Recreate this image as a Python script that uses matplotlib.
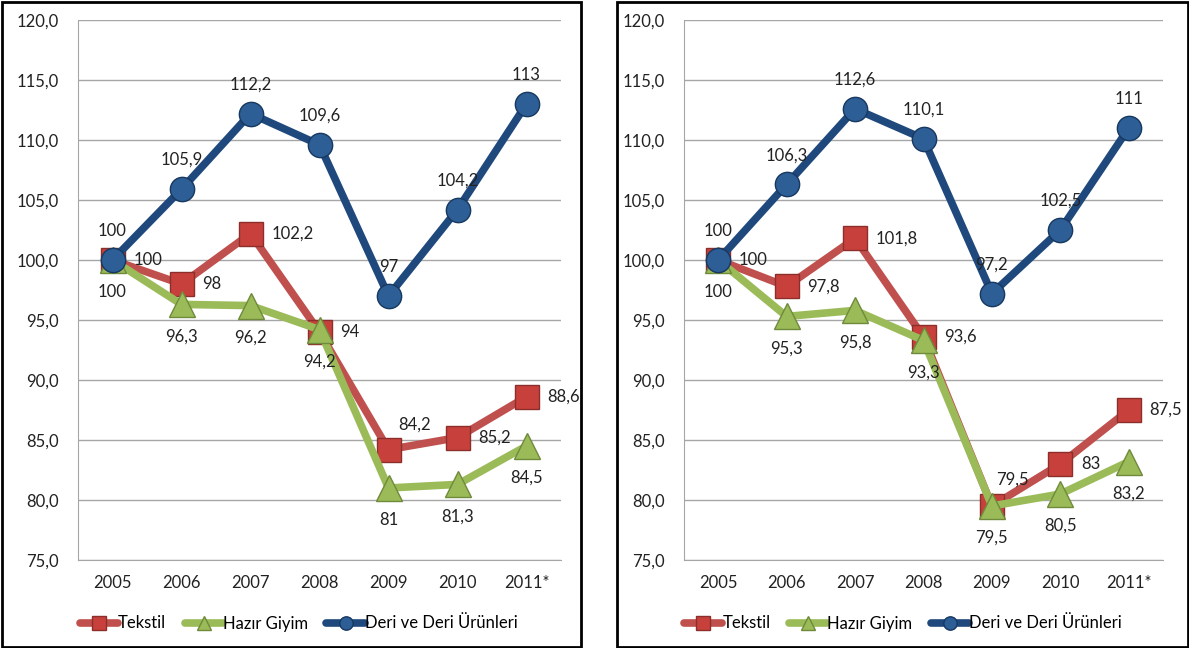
import matplotlib.pyplot as plt
from matplotlib.patches import Rectangle
from matplotlib.ticker import FuncFormatter
import numpy as np

plt.rcParams['font.family'] = ['Lato', 'DejaVu Sans']

years = ['2005', '2006', '2007', '2008', '2009', '2010', '2011*']
series_names = ['Tekstil', 'Hazır Giyim', 'Deri ve Deri Ürünleri']

# left panel
tekstil_1 = [100, 98, 102.2, 94, 84.2, 85.2, 88.6]
hazir_1 = [100, 96.3, 96.2, 94.2, 81, 81.3, 84.5]
deri_1 = [100, 105.9, 112.2, 109.6, 97, 104.2, 113]

# right panel
tekstil_2 = [100, 97.8, 101.8, 93.6, 79.5, 83, 87.5]
hazir_2 = [100, 95.3, 95.8, 93.3, 79.5, 80.5, 83.2]
deri_2 = [100, 106.3, 112.6, 110.1, 97.2, 102.5, 111]

line_cols = ['#C0504D', '#9BBB59', '#1F497D']
face_cols = ['#C8403C', '#9BBB59', '#2D5E95']
edge_cols = ['#8C2E2B', '#6E8A3A', '#173860']
markers = ['s', '^', 'o']
msizes = [17.5, 19, 17.5]
# label offsets in points (dx, dy) per series: right, below, above
offsets = [(15, 0), (0, -23), (0, 21)]


def fmt(v):
    s = ('%g' % v).replace('.', ',')
    return s


def draw_panel(ax, data, special):
    x = np.arange(len(years))
    for i, vals in enumerate(data):
        ax.plot(x, vals, color=line_cols[i], lw=5.5, marker=markers[i],
                ms=msizes[i], mfc=face_cols[i], mec=edge_cols[i], mew=1.0,
                solid_capstyle='round', zorder=3 + i, label=series_names[i])
        dx, dy = offsets[i]
        for j, v in enumerate(vals):
            ddx, ddy = special.get((i, j), (dx, dy))
            ha = 'left' if ddx > 0 else 'center'
            ax.annotate(fmt(v), (j, v), xytext=(ddx, ddy), textcoords='offset points',
                        ha=ha, va='center', fontsize=12, color='#222222', zorder=10)
    ax.set_xlim(-0.5, 6.5)
    ax.set_ylim(75, 120)
    ax.set_yticks(np.arange(75, 121, 5))
    ax.yaxis.set_major_formatter(FuncFormatter(lambda v, p: ('%.1f' % v).replace('.', ',')))
    ax.set_xticks(x)
    ax.set_xticklabels(years)
    ax.grid(axis='y', color='#A6A6A6', lw=1.0)
    ax.set_axisbelow(True)
    for s in ['top', 'right']:
        ax.spines[s].set_visible(False)
    ax.spines['left'].set_color('#A6A6A6')
    ax.spines['bottom'].set_color('#A6A6A6')
    ax.tick_params(axis='both', length=0, labelsize=12, colors='#222222')
    ax.tick_params(axis='y', pad=14)
    ax.tick_params(axis='x', pad=11)
    ax.legend(loc='upper center', bbox_to_anchor=(0.457, -0.075), ncol=3, frameon=False,
              fontsize=12, handlelength=2.3, handletextpad=0.0, columnspacing=1.1,
              markerscale=0.55)


fig = plt.figure(figsize=(11.89, 6.48), dpi=100)
ax1 = fig.add_axes([78 / 1189, 88 / 648, 483 / 1189, 540 / 648])
ax2 = fig.add_axes([684 / 1189, 88 / 648, 479 / 1189, 540 / 648])

draw_panel(ax1, [tekstil_1, hazir_1, deri_1], {(0, 4): (7, 18)})
draw_panel(ax2, [tekstil_2, hazir_2, deri_2], {(0, 4): (3, 19)})

fig.patches.append(Rectangle((1.5 / 1189, 1.5 / 648), 579 / 1189, 645 / 648, transform=fig.transFigure,
                             fill=False, ec='black', lw=2.0))
fig.patches.append(Rectangle((616.5 / 1189, 1.5 / 648), 571 / 1189, 645 / 648, transform=fig.transFigure,
                             fill=False, ec='black', lw=2.0))

fig.savefig('out.png', dpi=100)
